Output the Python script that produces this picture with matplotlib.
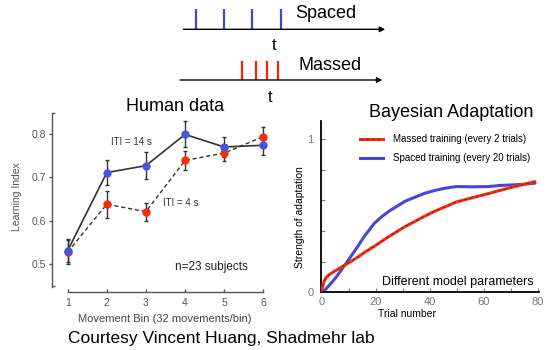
import matplotlib
matplotlib.use('Agg')
import matplotlib.pyplot as plt
from matplotlib.lines import Line2D
from matplotlib.ticker import FixedLocator, MultipleLocator

plt.rcParams['font.family'] = ['Liberation Sans', 'DejaVu Sans']

# schematic: stimulus times (arbitrary time units)
spaced_times = [0.45, 1.45, 2.45, 3.45]
massed_times = [2.07, 2.57, 2.98, 3.35]

# human data
bins = [1, 2, 3, 4, 5, 6]
iti14_mean = [0.531, 0.711, 0.727, 0.799, 0.770, 0.774]
iti14_err = [0.027, 0.028, 0.031, 0.030, 0.023, 0.022]
iti4_mean = [0.528, 0.638, 0.621, 0.739, 0.756, 0.794]
iti4_err = [0.027, 0.031, 0.021, 0.022, 0.018, 0.021]

# Bayesian model
trials = [0, 0.25, 0.5, 1, 1.5, 2, 3, 5, 8.6, 13, 16, 19.5, 22, 25, 31, 38, 42, 46, 50, 56, 62, 66, 70, 75, 79]
massed_strength = [0, 0.03, 0.05, 0.075, 0.092, 0.103, 0.118, 0.14, 0.178, 0.225, 0.262, 0.30, 0.33,
                   0.365, 0.43, 0.495, 0.53, 0.56, 0.59, 0.618, 0.645, 0.665, 0.683, 0.705, 0.722]
spaced_strength = [0, 0.003, 0.006, 0.012, 0.02, 0.03, 0.05, 0.09, 0.178, 0.29, 0.37, 0.45, 0.49,
                   0.53, 0.595, 0.645, 0.665, 0.68, 0.69, 0.688, 0.69, 0.697, 0.70, 0.705, 0.712]

W, H = 557, 350
fig = plt.figure(figsize=(W / 100, H / 100), dpi=100)


def axes_px(x0, y0, x1, y1):
    return fig.add_axes([x0 / W, 1 - y1 / H, (x1 - x0) / W, (y1 - y0) / H])


def text_px(x, y, s, **kw):
    fig.text(x / W, 1 - y / H, s, **kw)


# ---- schematic ----
ax0 = axes_px(170, 0, 392, 100)
ax0.set_xlim(-0.477, 7.41)
ax0.set_ylim(100, 0)
ax0.axis('off')
ax0.annotate('', xy=(7.17, 29.3), xytext=(0.0, 29.3),
             arrowprops=dict(arrowstyle='-|>', color='black', lw=1, mutation_scale=8, shrinkA=0, shrinkB=0))
ax0.annotate('', xy=(7.07, 80), xytext=(-0.12, 80),
             arrowprops=dict(arrowstyle='-|>', color='black', lw=1, mutation_scale=8, shrinkA=0, shrinkB=0))
ax0.vlines(spaced_times, 9.3, 29.3, color='#3b45d8', lw=1.6)
ax0.vlines(massed_times, 61, 80, color='#ff2200', lw=1.6)
text_px(295, 14, 'Spaced', fontsize=13, va='center', ha='left')
text_px(298, 65, 'Massed', fontsize=13, va='center', ha='left')
text_px(274, 45, 't', fontsize=12, va='center', ha='center')
text_px(270, 97, 't', fontsize=12, va='center', ha='center')

# ---- human data ----
ax1 = axes_px(52, 112.7, 267.2, 286.7)
ax1.set_xlim(0.6, 6.1)
ax1.set_ylim(0.448, 0.849)
ax1.errorbar(bins, iti14_mean, yerr=iti14_err, color='#333333', lw=1.2, ls='-',
             ecolor='#333333', elinewidth=1, capsize=1.5, capthick=1, zorder=2)
ax1.errorbar(bins, iti4_mean, yerr=iti4_err, color='#333333', lw=1.0, ls=(0, (3, 2)),
             ecolor='#333333', elinewidth=1, capsize=1.5, capthick=1, zorder=2)
ax1.plot(bins, iti4_mean, 'o', color='#ff2a0a', ms=5, mec='#ff2a0a', zorder=3)
ax1.plot(bins, iti14_mean, 'o', color='#4455e0', ms=5, mec='#4455e0', zorder=3)
for s in ['top', 'right']:
    ax1.spines[s].set_visible(False)
for s in ['left', 'bottom']:
    ax1.spines[s].set_color('#555555')
    ax1.spines[s].set_linewidth(1)
ax1.spines['bottom'].set_position(('outward', 4))
ax1.spines['bottom'].set_bounds(1, 6)
ax1.set_xticks(bins)
ax1.set_yticks([0.5, 0.6, 0.7, 0.8])
ax1.set_yticklabels(['0.5', '0.6', '0.7', '0.8'])
ax1.yaxis.set_minor_locator(FixedLocator([0.449, 0.848]))
ax1.tick_params(axis='y', which='major', direction='out', length=2.5, width=1, color='#555555',
                labelsize=7.5, labelcolor='#555555', pad=1.5)
ax1.tick_params(axis='y', which='minor', direction='in', length=2.5, width=1, color='#555555')
ax1.tick_params(axis='x', direction='in', length=2.5, width=1, color='#555555',
                labelsize=7.5, labelcolor='#555555', pad=4)
text_px(111, 142, 'ITI = 14 s', fontsize=7, color='#333333', ha='left', va='center')
text_px(163, 203, 'ITI = 4 s', fontsize=7, color='#333333', ha='left', va='center')
text_px(175, 267, 'n=23 subjects', fontsize=8.5, color='#222222', ha='left', va='center')
text_px(175, 106, 'Human data', fontsize=13, ha='center', va='center')
text_px(17, 197, 'Learning Index', fontsize=7.5, color='#555555', rotation=90, ha='center', va='center')
text_px(165, 319, 'Movement Bin (32 movements/bin)', fontsize=8, color='#444444', ha='center', va='center')

# ---- Bayesian model ----
ax2 = axes_px(320.6, 120.6, 539.3, 292.3)
ax2.set_xlim(-0.4, 80.6)
ax2.set_ylim(0, 1.12)
ax2.plot(trials, spaced_strength, color='#4646dc', lw=2.2, solid_capstyle='round', zorder=2)
ax2.plot(trials, massed_strength, color='#ff2a0a', lw=2.2, solid_capstyle='round', zorder=3)
ax2.plot(trials, massed_strength, color='#333333', lw=0.6, ls=(0, (3, 4)), zorder=4)
for s in ['top', 'right']:
    ax2.spines[s].set_visible(False)
for s in ['left', 'bottom']:
    ax2.spines[s].set_color('black')
    ax2.spines[s].set_linewidth(1.3)
ax2.set_xticks([0, 20, 40, 60, 80])
ax2.xaxis.set_minor_locator(MultipleLocator(10))
ax2.set_yticks([0, 1])
ax2.yaxis.set_minor_locator(MultipleLocator(0.2))
ax2.tick_params(which='both', direction='in', length=3, width=0.8, color='#777777')
ax2.tick_params(axis='x', labelsize=8, labelcolor='#777777', pad=3.5)
ax2.tick_params(axis='y', labelsize=8, labelcolor='#777777', pad=5)
handles = [(Line2D([], [], color='#ff2a0a', lw=2.2),
            Line2D([], [], color='#333333', lw=0.6, ls=(0, (3, 4)))),
           Line2D([], [], color='#4646dc', lw=2.2)]
labels = ['Massed training (every 2 trials)', 'Spaced training (every 20 trials)']
ax2.legend(handles, labels, loc='upper left', bbox_to_anchor=(360 / W, 1 - 134 / H),
           bbox_transform=fig.transFigure, frameon=False, fontsize=7, handlelength=2.4,
           handletextpad=1.0, labelspacing=0.95, borderpad=0, borderaxespad=0)
text_px(451, 112, 'Bayesian Adaptation', fontsize=13, ha='center', va='center')
text_px(300, 217, 'Strength of adaptation', fontsize=7.5, rotation=90, ha='center', va='center')
text_px(407, 314, 'Trial number', fontsize=7.5, ha='center', va='center')
text_px(382, 282, 'Different model parameters', fontsize=9, ha='left', va='center')

text_px(68, 339, 'Courtesy Vincent Huang, Shadmehr lab', fontsize=12.5, ha='left', va='center')

fig.savefig('out.png', dpi=100)
